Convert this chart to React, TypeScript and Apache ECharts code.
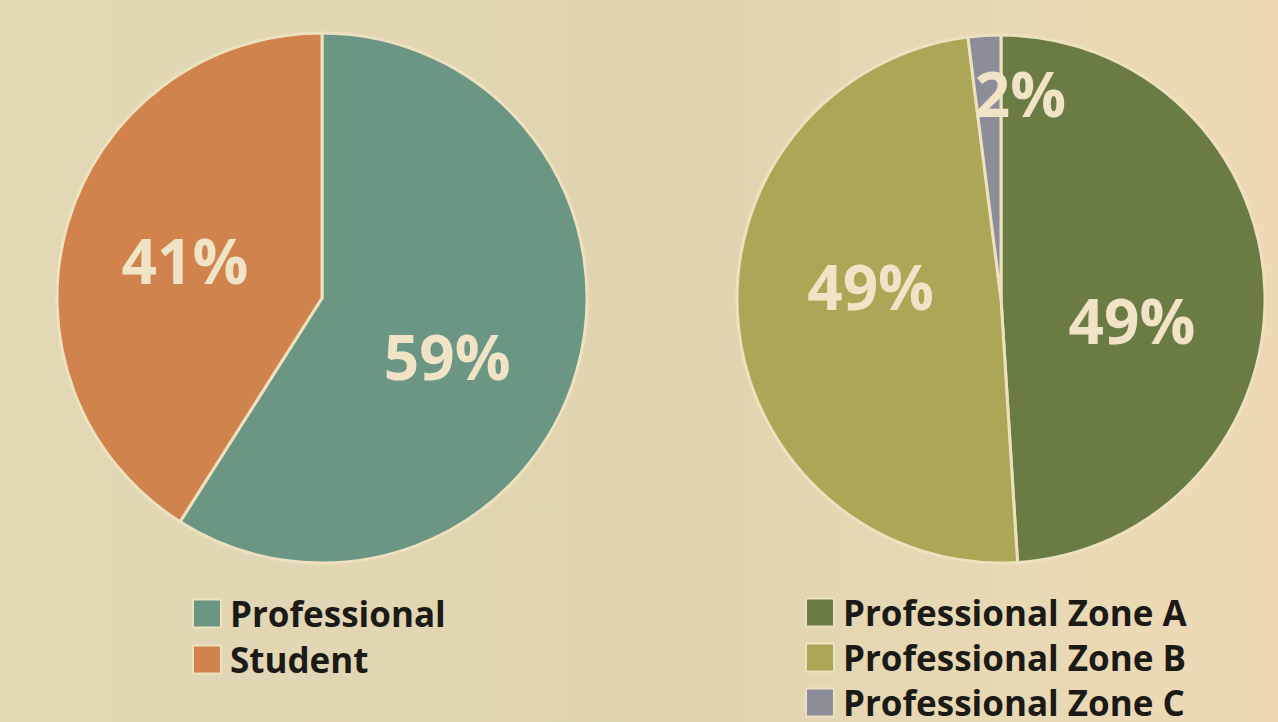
import React, { useEffect, useRef } from "react";
import * as echarts from "echarts";

const leftNames = ["Professional", "Student"];
const leftValues = [59, 41];
const leftColors = ["#6b9683", "#d0834c"];

const rightNames = ["Professional Zone A", "Professional Zone B", "Professional Zone C"];
const rightValues = [49, 49, 2];
const rightColors = ["#6a7b43", "#aca757", "#8d8d99"];

const leftLabelOffsets = [[-5, 20], [-7, 0]];
const rightLabelOffsets = [[-4, 25], [4, -26], [28, -71]];

export default function App() {
  const ref = useRef<HTMLDivElement>(null);
  useEffect(() => {
    if (!ref.current) return;
    const chart = echarts.init(ref.current, undefined, { renderer: "svg" });
    const labelBase = {
      show: true,
      position: "inside",
      color: "#f1e3c5",
      fontFamily: "Open Sans",
      fontWeight: "bold",
      fontSize: 62,
      formatter: (p: any) => `${p.value}%`,
    };
    const legendText = {
      fontFamily: "Open Sans",
      fontWeight: "bold",
      fontSize: 35,
      color: "#1c1a16",
      padding: [0, 0, 0, 4],
    };
    chart.setOption({
      animation: false,
      backgroundColor: {
        type: "linear",
        x: 0, y: 0, x2: 1, y2: 0,
        colorStops: [
          { offset: 0, color: "#e3d8b6" },
          { offset: 0.55, color: "#e0d4b0" },
          { offset: 0.72, color: "#e6d8b3" },
          { offset: 1, color: "#efd9b5" },
        ],
      },
      legend: [
        {
          data: leftNames,
          orient: "vertical",
          left: 192,
          top: 596,
          padding: 0,
          height: 300,
          icon: "rect",
          itemWidth: 28,
          itemHeight: 28,
          itemGap: 11,
          textStyle: legendText,
          selectedMode: false,
        },
        {
          data: rightNames,
          orient: "vertical",
          left: 805,
          top: 595,
          padding: 0,
          height: 300,
          icon: "rect",
          itemWidth: 28,
          itemHeight: 28,
          itemGap: 10,
          textStyle: legendText,
          selectedMode: false,
        },
      ],
      series: [
        {
          type: "pie",
          center: [322, 298],
          radius: 265,
          startAngle: 90,
          clockwise: true,
          silent: true,
          itemStyle: { borderColor: "#ede1c0", borderWidth: 3 },
          label: labelBase,
          labelLine: { show: false },
          data: leftNames.map((n, i) => ({
            name: n,
            value: leftValues[i],
            itemStyle: { color: leftColors[i] },
            label: { offset: leftLabelOffsets[i] },
          })),
        },
        {
          type: "pie",
          center: [1001, 299],
          radius: 264,
          startAngle: 90,
          clockwise: true,
          silent: true,
          itemStyle: { borderColor: "#ede1c0", borderWidth: 3 },
          label: labelBase,
          labelLine: { show: false },
          data: rightNames.map((n, i) => ({
            name: n,
            value: rightValues[i],
            itemStyle: { color: rightColors[i] },
            label: { offset: rightLabelOffsets[i] },
          })),
        },
      ],
    });
    return () => chart.dispose();
  }, []);
  return (
    <div
      ref={ref}
      style={{ position: "fixed", left: 0, top: 0, width: 1278, height: 722 }}
    />
  );
}
